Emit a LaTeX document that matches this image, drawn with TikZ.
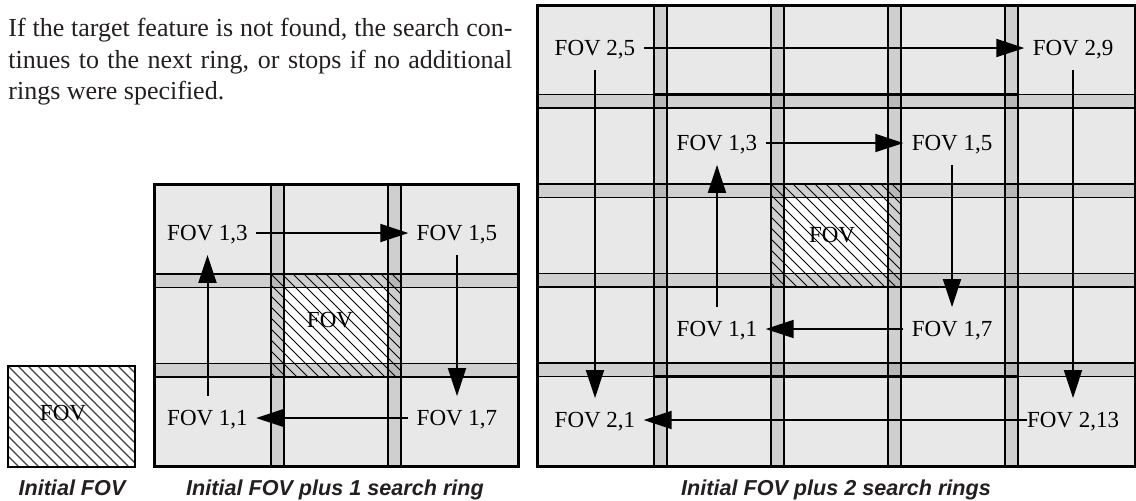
\documentclass[tikz,border=0pt]{standalone}
\usepackage{fontspec}
\setmainfont{Liberation Serif}
\newfontfamily\legendfont{Liberation Sans}
\usepackage{xcolor}
\usepackage{tikz}
\usetikzlibrary{arrows.meta,calc}
\definecolor{cellgray}{HTML}{E8E8E8}
\definecolor{stripgray}{HTML}{CFCFCF}
\definecolor{crossgray}{HTML}{B8B8B8}
\definecolor{textgray}{HTML}{231F20}
\tikzset{
  lbl/.style={font=\fontsize{11.5}{13}\selectfont,inner xsep=4pt,inner ysep=7pt,
    text height=7.5pt,text depth=0pt},
  legend/.style={font=\legendfont\bfseries\itshape\fontsize{10.8}{13}\selectfont,
    anchor=base,inner sep=0pt,text=textgray},
  flow/.style={line width=1pt,-{Triangle[length=14pt,width=9pt]}},
  gridline/.style={line width=0.7pt},
  hatch/.style={line width=0.4pt},
  fovbox/.style={line width=1.3pt},
  frame/.style={line width=1.5pt}
}
\newcommand{\Suchraster}[3]{%
  \pgfmathsetmacro{\rasterW}{(#3-1)*117+130}
  \pgfmathsetmacro{\rasterH}{(#3-1)*89.5+103}
  \pgfmathsetmacro{\fovX}{#1+(#3-1)/2*117}
  \pgfmathsetmacro{\fovY}{#2+(#3-1)/2*89.5}
  \pgfmathtruncatemacro{\rasterN}{#3-1}
  \fill[cellgray] (#1,#2) rectangle ++(\rasterW,\rasterH);
  \fill[white] (\fovX+13,\fovY+13.5) rectangle (\fovX+117,\fovY+89.5);
  \foreach \k in {1,...,\rasterN}{
    \fill[stripgray] (#1+\k*117,#2) rectangle ++(13,\rasterH);
    \fill[stripgray] (#1,#2+\k*89.5) rectangle ++(\rasterW,13.5);
  }
  \foreach \i in {1,...,\rasterN}
    \foreach \j in {1,...,\rasterN}
      \fill[crossgray] (#1+\i*117,#2+\j*89.5) rectangle ++(13,13.5);
  \foreach \k in {1,...,\rasterN}{
    \draw[gridline] (#1+\k*117,#2) -- ++(0,\rasterH) (#1+\k*117+13,#2) -- ++(0,\rasterH);
    \draw[gridline] (#1,#2+\k*89.5) -- ++(\rasterW,0) (#1,#2+\k*89.5+13.5) -- ++(\rasterW,0);
  }
  \begin{scope}
    \clip (\fovX,\fovY) rectangle ++(130,103);
    \foreach \s in {-110,-99,...,130}
      \draw[hatch] (\fovX+\s,\fovY) -- ++(110,110);
  \end{scope}
  \draw[fovbox] (\fovX,\fovY) rectangle ++(130,103);
  \draw[frame] (#1,#2) rectangle ++(\rasterW,\rasterH);
}

\begin{document}
\begin{tikzpicture}[x=0.5pt,y=-0.5pt]
  \useasboundingbox (0,0) rectangle (1136,500);
  \node[anchor=north west,text width=252pt,align=justify,inner sep=0pt,
    font=\fontsize{13}{15.75}\selectfont,text=textgray] (txt) at (8,18)
    {If the target feature is not found, the search con-\linebreak tinues to the next ring, or stops if no additional\linebreak rings were specified.};

  \fill[white] (8,366) rectangle ++(127,101);
  \begin{scope}
    \clip (8,366) rectangle ++(127,101);
    \foreach \s in {-110,-100,...,130}
      \draw[line width=0.55pt,black!75] (8+\s,366) -- ++(110,110);
  \end{scope}
  \draw[line width=1.2pt] (8,366) rectangle ++(127,101);
  \node[lbl] (fov0) at (63,413) {FOV};

  \Suchraster{154}{184.5}{3}
  \node[lbl] (fov1) at (330,320) {FOV};
  \node[lbl] (m13) at (207.5,233) {FOV 1,3};
  \node[lbl] (m15) at (457,233) {FOV 1,5};
  \node[lbl] (m17) at (457,418) {FOV 1,7};
  \node[lbl] (m11) at (207.5,418) {FOV 1,1};
  \draw[flow] (m13) -- (m15);
  \draw[flow] (m15) -- (m17);
  \draw[flow] (m17) -- (m11);
  \draw[flow] (m11) -- (m13);

  \Suchraster{537}{5}{5}
  \draw[fovbox] (654,94.5) rectangle (1018,376.5);
  \node[lbl] (fov2) at (832,235) {FOV};
  \node[lbl] (r13) at (717,143) {FOV 1,3};
  \node[lbl] (r15) at (952,143) {FOV 1,5};
  \node[lbl] (r17) at (952,329) {FOV 1,7};
  \node[lbl] (r11) at (717,329) {FOV 1,1};
  \node[lbl] (r25) at (595,48) {FOV 2,5};
  \node[lbl] (r29) at (1073,48) {FOV 2,9};
  \node[lbl] (r213) at (1073,420) {FOV 2,13};
  \node[lbl] (r21) at (595,420) {FOV 2,1};
  \draw[flow] (r13) -- (r15);
  \draw[flow] (r15) -- (r17);
  \draw[flow] (r17) -- (r11);
  \draw[flow] (r11) -- (r13);
  \draw[flow] (r25) -- (r29);
  \draw[flow] (r29) -- (r213);
  \draw[flow,shorten <=-4pt] (r213) -- (r21);
  \draw[flow] (r25) -- (r21);

  \node[legend] (cap0) at (72,495) {Initial FOV};
  \node[legend] (cap1) at (335,495) {Initial FOV plus 1 search ring};
  \node[legend] (cap2) at (836,495) {Initial FOV plus 2 search rings};
\end{tikzpicture}
\end{document}
